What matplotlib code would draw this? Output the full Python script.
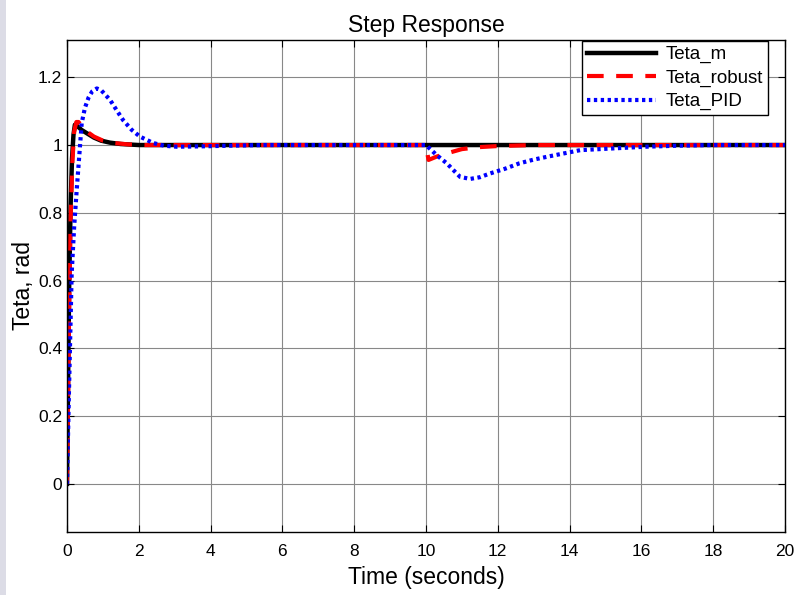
import matplotlib.pyplot as plt
from matplotlib.patches import Rectangle

# Teta_m
t_m = [0, 0.03, 0.06, 0.1, 0.14, 0.18, 0.22, 0.3, 0.4, 0.55, 0.75, 0.95, 1.2, 1.5, 2.0, 3.0, 20]
y_m = [0, 0.3, 0.58, 0.82, 0.96, 1.03, 1.06, 1.055, 1.045, 1.035, 1.022, 1.013, 1.007, 1.003, 1.0, 1.0, 1.0]

# Teta_robust
t_r = [0, 0.03, 0.06, 0.1, 0.15, 0.2, 0.26, 0.32, 0.4, 0.55, 0.75, 1.0, 1.3, 1.7, 2.2, 3.0,
       10.0, 10.07, 10.3, 10.6, 11.0, 11.5, 12.0, 13.0, 20]
y_r = [0, 0.25, 0.52, 0.78, 0.95, 1.04, 1.068, 1.068, 1.058, 1.04, 1.025, 1.013, 1.006, 1.002, 1.0, 1.0,
       1.0, 0.956, 0.966, 0.976, 0.988, 0.994, 0.997, 1.0, 1.0]

# Teta_PID
t_p = [0, 0.05, 0.13, 0.2, 0.27, 0.35, 0.41, 0.5, 0.6, 0.7, 0.83, 0.95, 1.2, 1.4, 1.56, 1.8, 2.03,
       2.4, 2.7, 3.06, 3.7, 4.5, 5.5, 10.0, 10.1, 10.3, 10.58, 10.8, 10.95, 11.23, 11.5, 11.78,
       12.2, 12.6, 13.0, 13.4, 14.3, 15.2, 16.1, 17.0, 18.0, 20]
y_p = [0, 0.25, 0.62, 0.76, 0.867, 0.98, 1.065, 1.11, 1.14, 1.158, 1.167, 1.162, 1.133, 1.1, 1.074,
       1.045, 1.025, 1.006, 0.998, 0.995, 0.996, 0.998, 1.0, 1.0, 0.99, 0.97, 0.946, 0.922, 0.906,
       0.9, 0.905, 0.916, 0.93, 0.946, 0.957, 0.966, 0.985, 0.99, 0.995, 0.998, 1.0, 1.0]

plt.rcParams['font.family'] = ['Liberation Sans', 'DejaVu Sans']

fig = plt.figure(figsize=(7.98, 5.95), dpi=100)
# light strip on the left edge
fig.patches.append(Rectangle((0, 0), 6 / 798, 1, transform=fig.transFigure,
                             facecolor='#dcdce6', edgecolor='none'))
ax = fig.add_axes([67 / 798, 1 - 532 / 595, 718 / 798, 492 / 595])

ax.plot(t_m, y_m, color='black', lw=3.2, label='Teta_m')
ax.plot(t_r, y_r, color='red', lw=3, ls=(0, (4, 3)), label='Teta_robust')
ax.plot(t_p, y_p, color='blue', lw=3, ls=(0, (0.8, 0.85)), label='Teta_PID')

ax.set_xlim(0, 20)
ax.set_ylim(-0.142, 1.31)
ax.set_xticks(range(0, 21, 2))
ax.set_yticks([0, 0.2, 0.4, 0.6, 0.8, 1, 1.2])
ax.set_yticklabels(['0', '0.2', '0.4', '0.6', '0.8', '1', '1.2'])
ax.grid(True, color='#888888', lw=0.8)
ax.tick_params(direction='in', top=True, right=True, labelsize=12.5, length=5)
ax.tick_params(axis='x', pad=9)
for s in ax.spines.values():
    s.set_linewidth(1.0)

ax.set_title('Step Response', fontsize=16.5, pad=6)
ax.set_xlabel('Time (seconds)', fontsize=16.5, labelpad=5)
ax.set_ylabel('Teta, rad', fontsize=16.5, labelpad=2)

leg = ax.legend(loc='upper right', bbox_to_anchor=(0.9763, 0.998), fontsize=13.5, handlelength=3.7,
                fancybox=False, framealpha=1, edgecolor='black', borderpad=0.27,
                labelspacing=0.33, handletextpad=0.5, borderaxespad=0)
leg.get_frame().set_linewidth(1.0)

plt.savefig('out.png', dpi=100)
